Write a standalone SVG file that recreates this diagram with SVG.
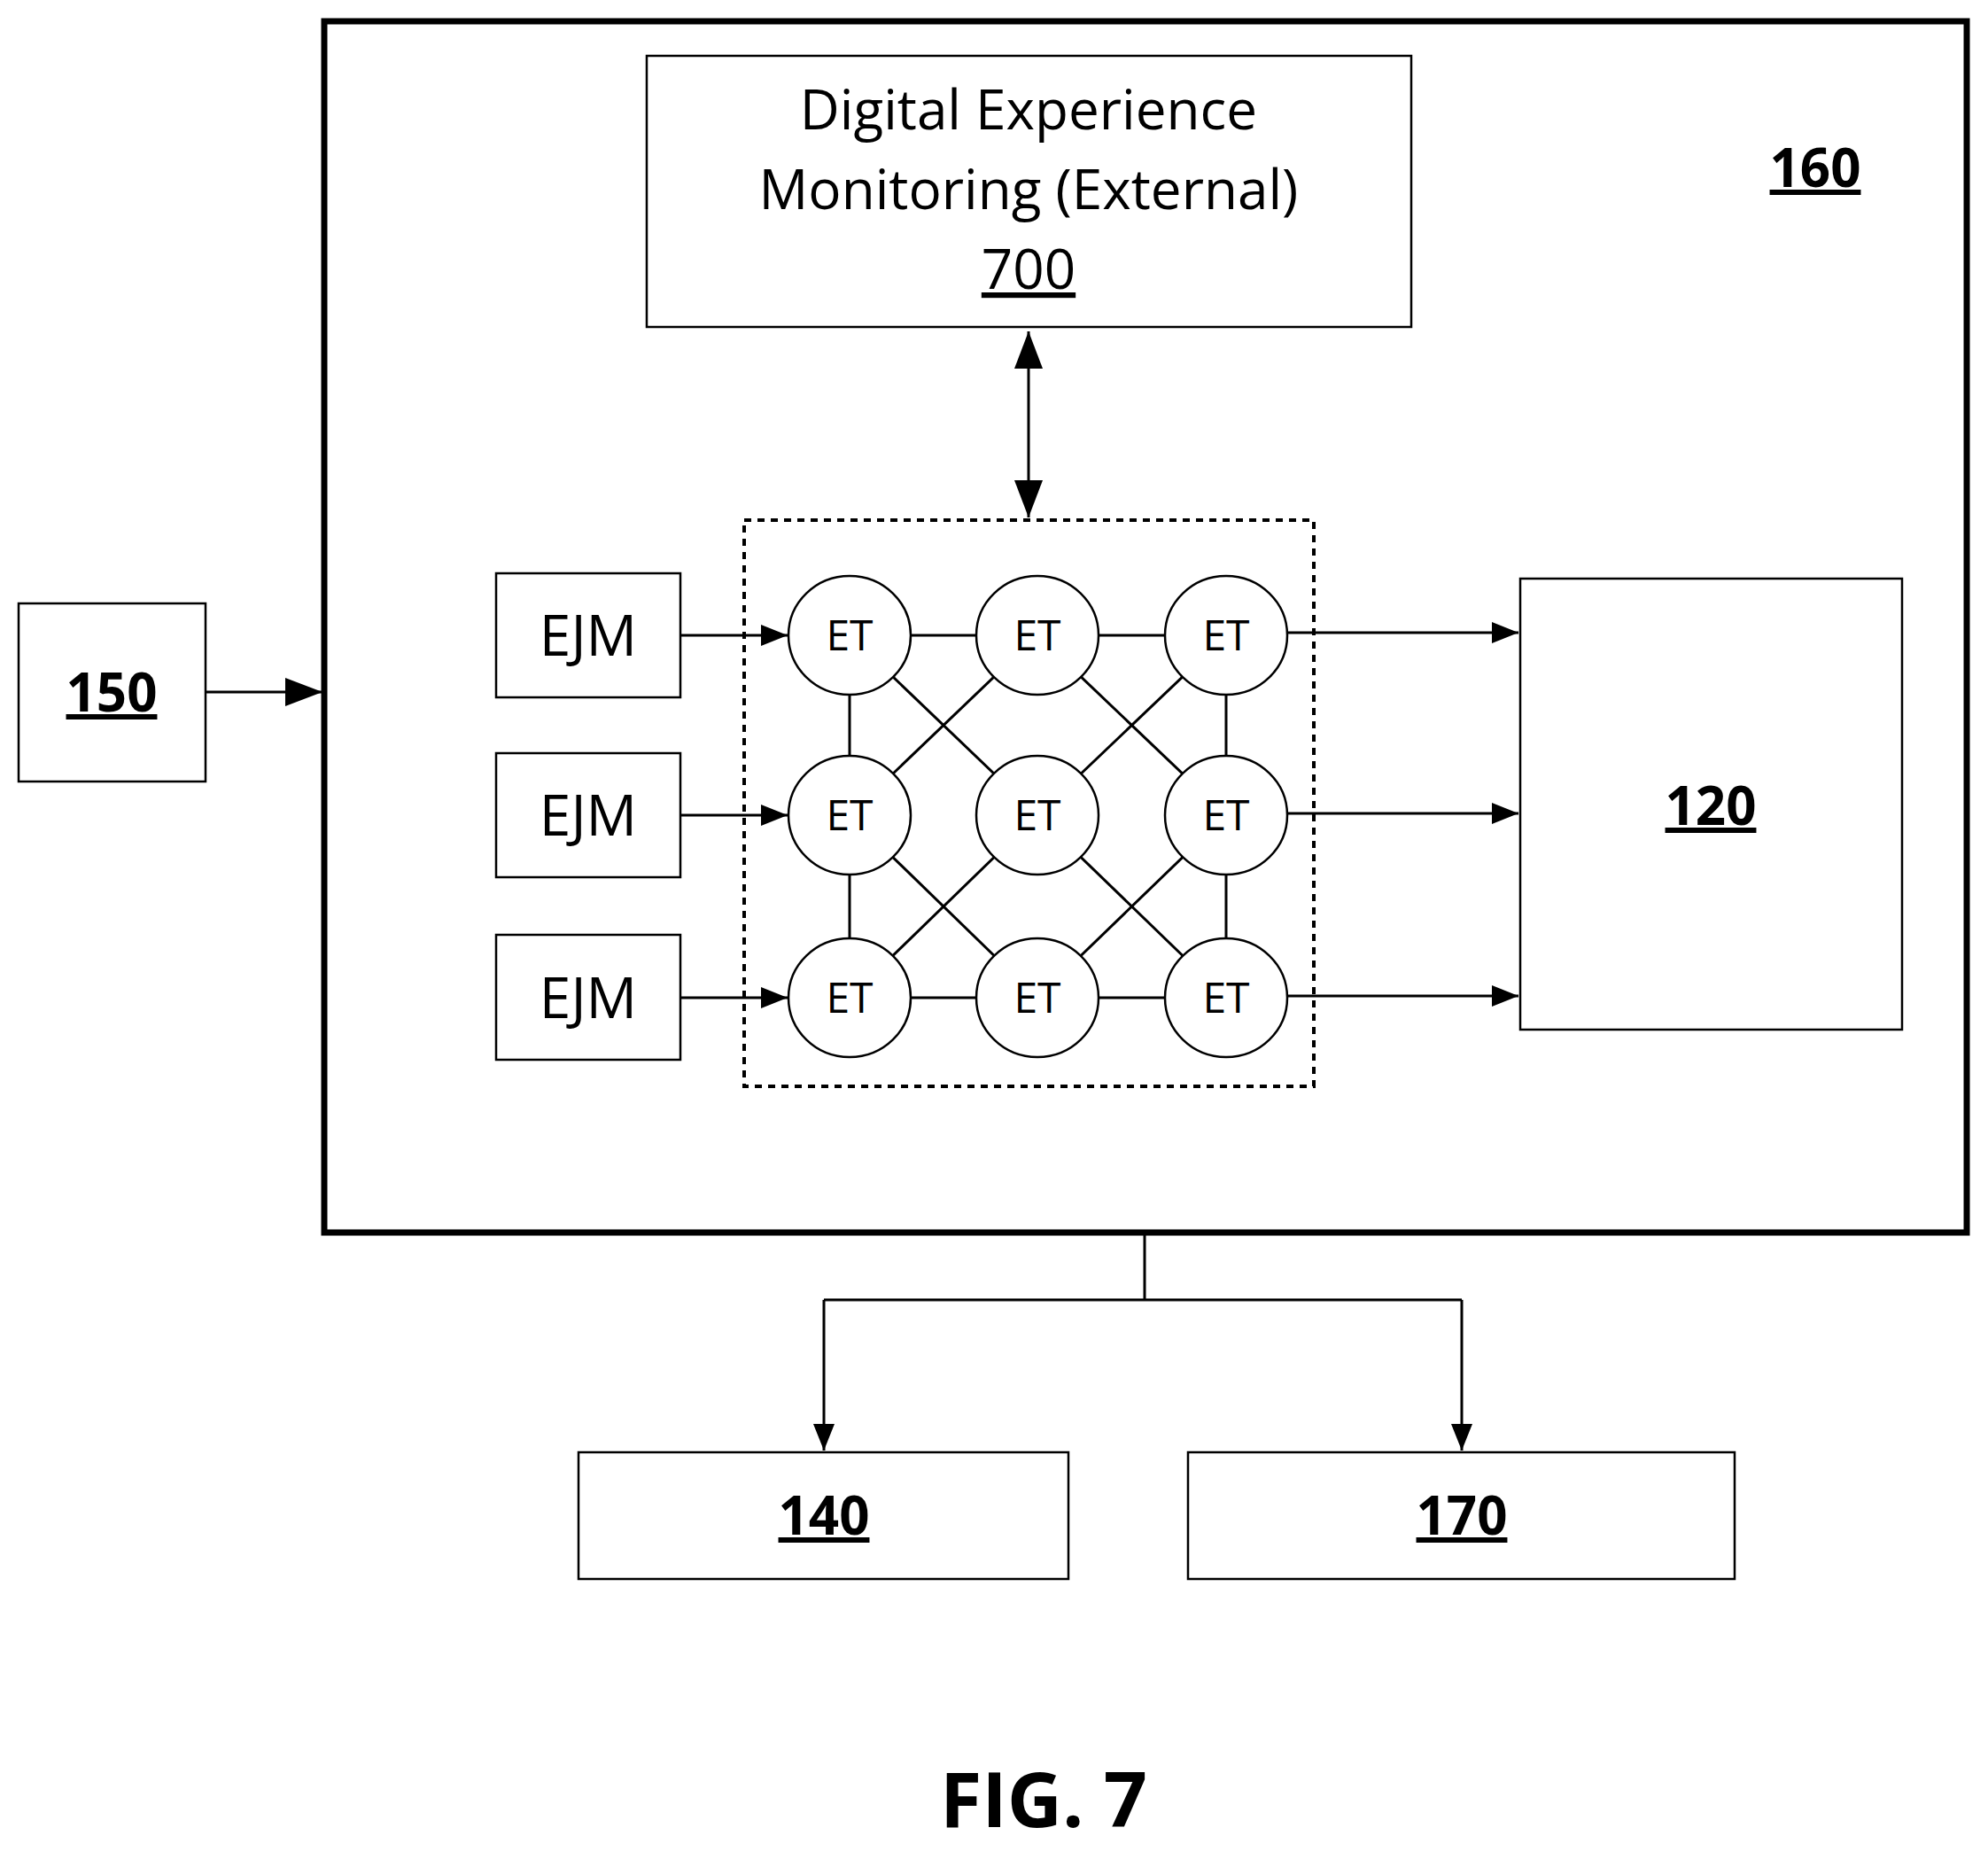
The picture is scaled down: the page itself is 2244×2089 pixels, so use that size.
<svg xmlns="http://www.w3.org/2000/svg" width="2244" height="2089" viewBox="0 0 2244 2089">
<style>
.b{fill:#fff;stroke:#000;stroke-width:2.5}
.t{font-family:"Open Sans","Liberation Sans",sans-serif;text-anchor:middle;fill:#000}
.lb{font-size:60px;font-weight:bold;text-decoration:underline}
.w{stroke:#000;stroke-width:3;fill:none}
.a{stroke:#000;stroke-width:3;fill:none}
</style>
<defs>
<marker id="ah" viewBox="0 0 10 10" refX="10" refY="5" markerWidth="30" markerHeight="24" markerUnits="userSpaceOnUse" orient="auto-start-reverse" preserveAspectRatio="none"><path d="M0,0L10,5L0,10z" fill="#000"/></marker>
<marker id="ahL" viewBox="0 0 10 10" refX="10" refY="5" markerWidth="42" markerHeight="32" markerUnits="userSpaceOnUse" orient="auto-start-reverse" preserveAspectRatio="none"><path d="M0,0L10,5L0,10z" fill="#000"/></marker>
</defs>
<rect width="2244" height="2089" fill="#fff"/>
<g id="n160"><rect x="366" y="24" width="1854" height="1367" fill="none" stroke="#000" stroke-width="7"/>
<text class="t lb" x="2049" y="211">160</text></g>
<g id="n700"><rect class="b" x="730" y="63" width="863" height="306"/>
<text class="t" font-size="62" x="1161" y="146">Digital Experience</text>
<text class="t" font-size="62" x="1161" y="236">Monitoring (External)</text>
<text class="t" font-size="62" x="1161" y="326" text-decoration="underline">700</text></g>
<g id="cluster"><rect x="840" y="587" width="643" height="639" fill="none" stroke="#000" stroke-width="4" stroke-dasharray="8,7"/></g>
<g id="n150"><rect class="b" x="21" y="681" width="211" height="201"/><text class="t lb" x="126" y="803">150</text></g>
<g id="n120"><rect class="b" x="1716" y="653" width="431" height="509"/><text class="t lb" x="1931" y="931">120</text></g>
<g id="n140"><rect class="b" x="653" y="1639" width="553" height="143"/><text class="t lb" x="930" y="1732">140</text></g>
<g id="n170"><rect class="b" x="1341" y="1639" width="617" height="143"/><text class="t lb" x="1650" y="1732">170</text></g>
<g id="ejm">
<rect class="b" x="560" y="647" width="208" height="140"/><text class="t" font-size="64" x="664" y="740">EJM</text>
<rect class="b" x="560" y="850" width="208" height="140"/><text class="t" font-size="64" x="664" y="943">EJM</text>
<rect class="b" x="560" y="1055" width="208" height="141"/><text class="t" font-size="64" x="664" y="1149">EJM</text>
</g>
<g id="connectors">
<line class="a" x1="1161" y1="374" x2="1161" y2="584" stroke-width="5" marker-start="url(#ahL)" marker-end="url(#ahL)"/>
<line class="a" x1="232" y1="781" x2="364" y2="781" stroke-width="4" marker-end="url(#ahL)"/>
<line class="w" x1="768" y1="717" x2="889" y2="717" marker-end="url(#ah)"/>
<line class="w" x1="768" y1="920" x2="889" y2="920" marker-end="url(#ah)"/>
<line class="w" x1="768" y1="1126" x2="889" y2="1126" marker-end="url(#ah)"/>
<line class="w" x1="1453" y1="714" x2="1714" y2="714" marker-end="url(#ah)"/>
<line class="w" x1="1453" y1="918" x2="1714" y2="918" marker-end="url(#ah)"/>
<line class="w" x1="1453" y1="1124" x2="1714" y2="1124" marker-end="url(#ah)"/>
<path class="w" d="M959,717H1384M959,1126H1384M959,717V1126M1384,717V1126M959,717L1171,920L1384,717M1171,717L959,920L1171,1126L1384,920L1171,717M959,1126L1171,920L1384,1126"/>
<path class="w" d="M1292,1391V1467M930,1467H1650" stroke-width="3.5"/>
<line class="w" x1="930" y1="1467" x2="930" y2="1637" marker-end="url(#ah)"/>
<line class="w" x1="1650" y1="1467" x2="1650" y2="1637" marker-end="url(#ah)"/>
</g>
<g id="et" font-size="48">
<ellipse class="b" cx="959" cy="717" rx="69" ry="67"/><text class="t" x="959" y="734">ET</text>
<ellipse class="b" cx="1171" cy="717" rx="69" ry="67"/><text class="t" x="1171" y="734">ET</text>
<ellipse class="b" cx="1384" cy="717" rx="69" ry="67"/><text class="t" x="1384" y="734">ET</text>
<ellipse class="b" cx="959" cy="920" rx="69" ry="67"/><text class="t" x="959" y="937">ET</text>
<ellipse class="b" cx="1171" cy="920" rx="69" ry="67"/><text class="t" x="1171" y="937">ET</text>
<ellipse class="b" cx="1384" cy="920" rx="69" ry="67"/><text class="t" x="1384" y="937">ET</text>
<ellipse class="b" cx="959" cy="1126" rx="69" ry="67"/><text class="t" x="959" y="1143">ET</text>
<ellipse class="b" cx="1171" cy="1126" rx="69" ry="67"/><text class="t" x="1171" y="1143">ET</text>
<ellipse class="b" cx="1384" cy="1126" rx="69" ry="67"/><text class="t" x="1384" y="1143">ET</text>
</g>
<text class="t" font-size="86" font-weight="bold" x="1178" y="2062">FIG. 7</text>
</svg>
